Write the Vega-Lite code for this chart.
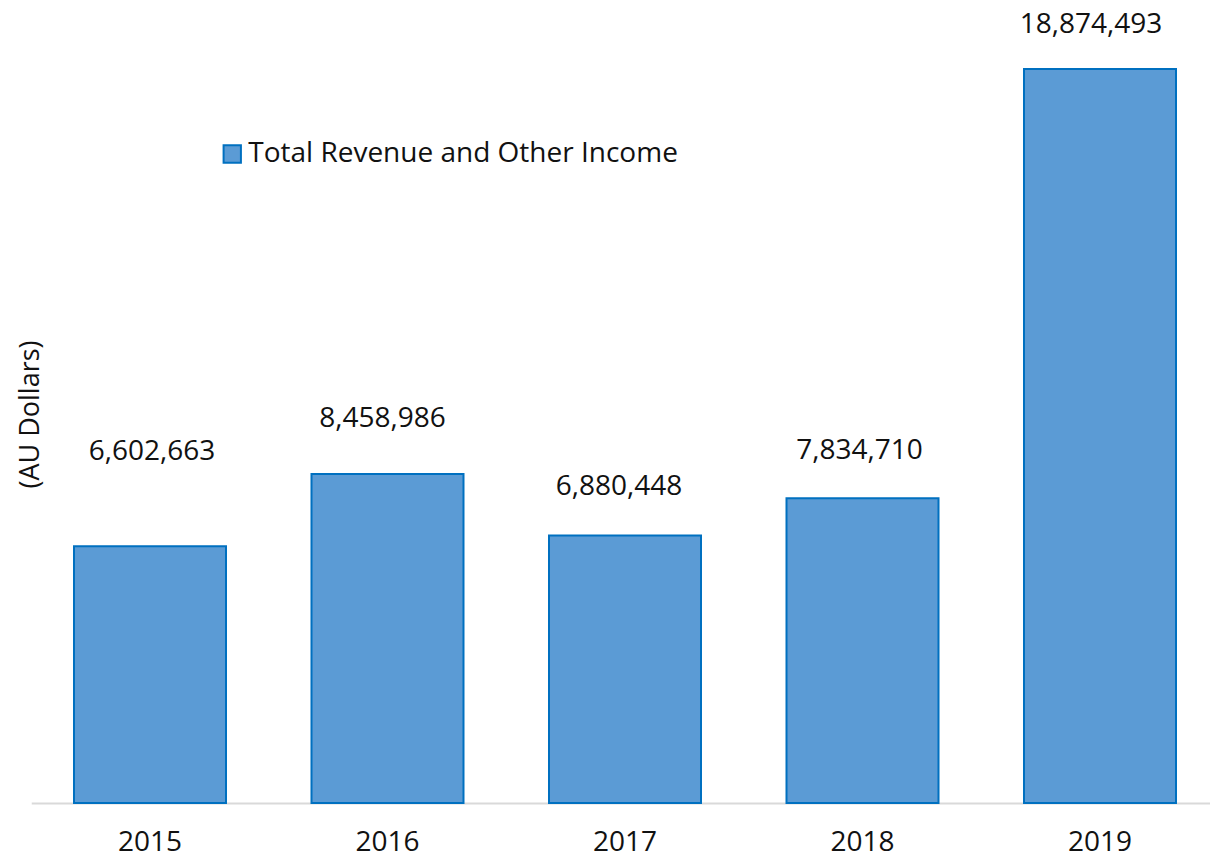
{"$schema":"https://vega.github.io/schema/vega-lite/v6.json","width":1187.5,"height":734,"autosize":"none","padding":{"left":31.25,"top":69,"right":0,"bottom":55},"background":"white","view":{"stroke":null},"data":{"values":[{"year":"2015","revenue":6602663,"series":"Total Revenue and Other Income"},{"year":"2016","revenue":8458986,"series":"Total Revenue and Other Income"},{"year":"2017","revenue":6880448,"series":"Total Revenue and Other Income"},{"year":"2018","revenue":7834710,"series":"Total Revenue and Other Income"},{"year":"2019","revenue":18874493,"series":"Total Revenue and Other Income"}]},"encoding":{"x":{"field":"year","type":"ordinal","scale":{"paddingInner":0.36,"paddingOuter":0.18},"axis":{"title":null,"labelAngle":0,"labelFont":"Open Sans","labelFontSize":28,"labelColor":"#111111","labelPadding":25,"ticks":false,"domainColor":"#d9d9d9","domainWidth":2,"grid":false}},"y":{"field":"revenue","type":"quantitative","scale":{"domain":[0,18874493]},"axis":{"title":"(AU Dollars)","titleFont":"Open Sans","titleFontSize":27,"titleFontWeight":"normal","titleColor":"#111111","titleX":13,"titleY":345,"labels":false,"ticks":false,"domain":false,"grid":false}}},"layer":[{"mark":{"type":"bar","stroke":"#0070c0","strokeWidth":2},"encoding":{"color":{"field":"series","type":"nominal","scale":{"range":["#5b9bd5"]},"legend":{"title":null,"orient":"none","legendX":187,"legendY":71,"symbolType":"square","symbolSize":300,"symbolStrokeColor":"#0070c0","symbolStrokeWidth":2,"labelFont":"Open Sans","labelFontSize":28,"labelColor":"#111111","labelLimit":600,"labelOffset":2}}}},{"transform":[{"filter":"datum.year=='2015'"}],"mark":{"type":"text","font":"Open Sans","fontSize":28,"color":"#111111","dy":-94,"dx":2},"encoding":{"text":{"field":"revenue","format":","}}},{"transform":[{"filter":"datum.year=='2016'"}],"mark":{"type":"text","font":"Open Sans","fontSize":28,"color":"#111111","dy":-55,"dx":-5},"encoding":{"text":{"field":"revenue","format":","}}},{"transform":[{"filter":"datum.year=='2017'"}],"mark":{"type":"text","font":"Open Sans","fontSize":28,"color":"#111111","dy":-48,"dx":-6},"encoding":{"text":{"field":"revenue","format":","}}},{"transform":[{"filter":"datum.year=='2018'"}],"mark":{"type":"text","font":"Open Sans","fontSize":28,"color":"#111111","dy":-47,"dx":-3},"encoding":{"text":{"field":"revenue","format":","}}},{"transform":[{"filter":"datum.year=='2019'"}],"mark":{"type":"text","font":"Open Sans","fontSize":28,"color":"#111111","dy":-44,"dx":-9},"encoding":{"text":{"field":"revenue","format":","}}}]}
